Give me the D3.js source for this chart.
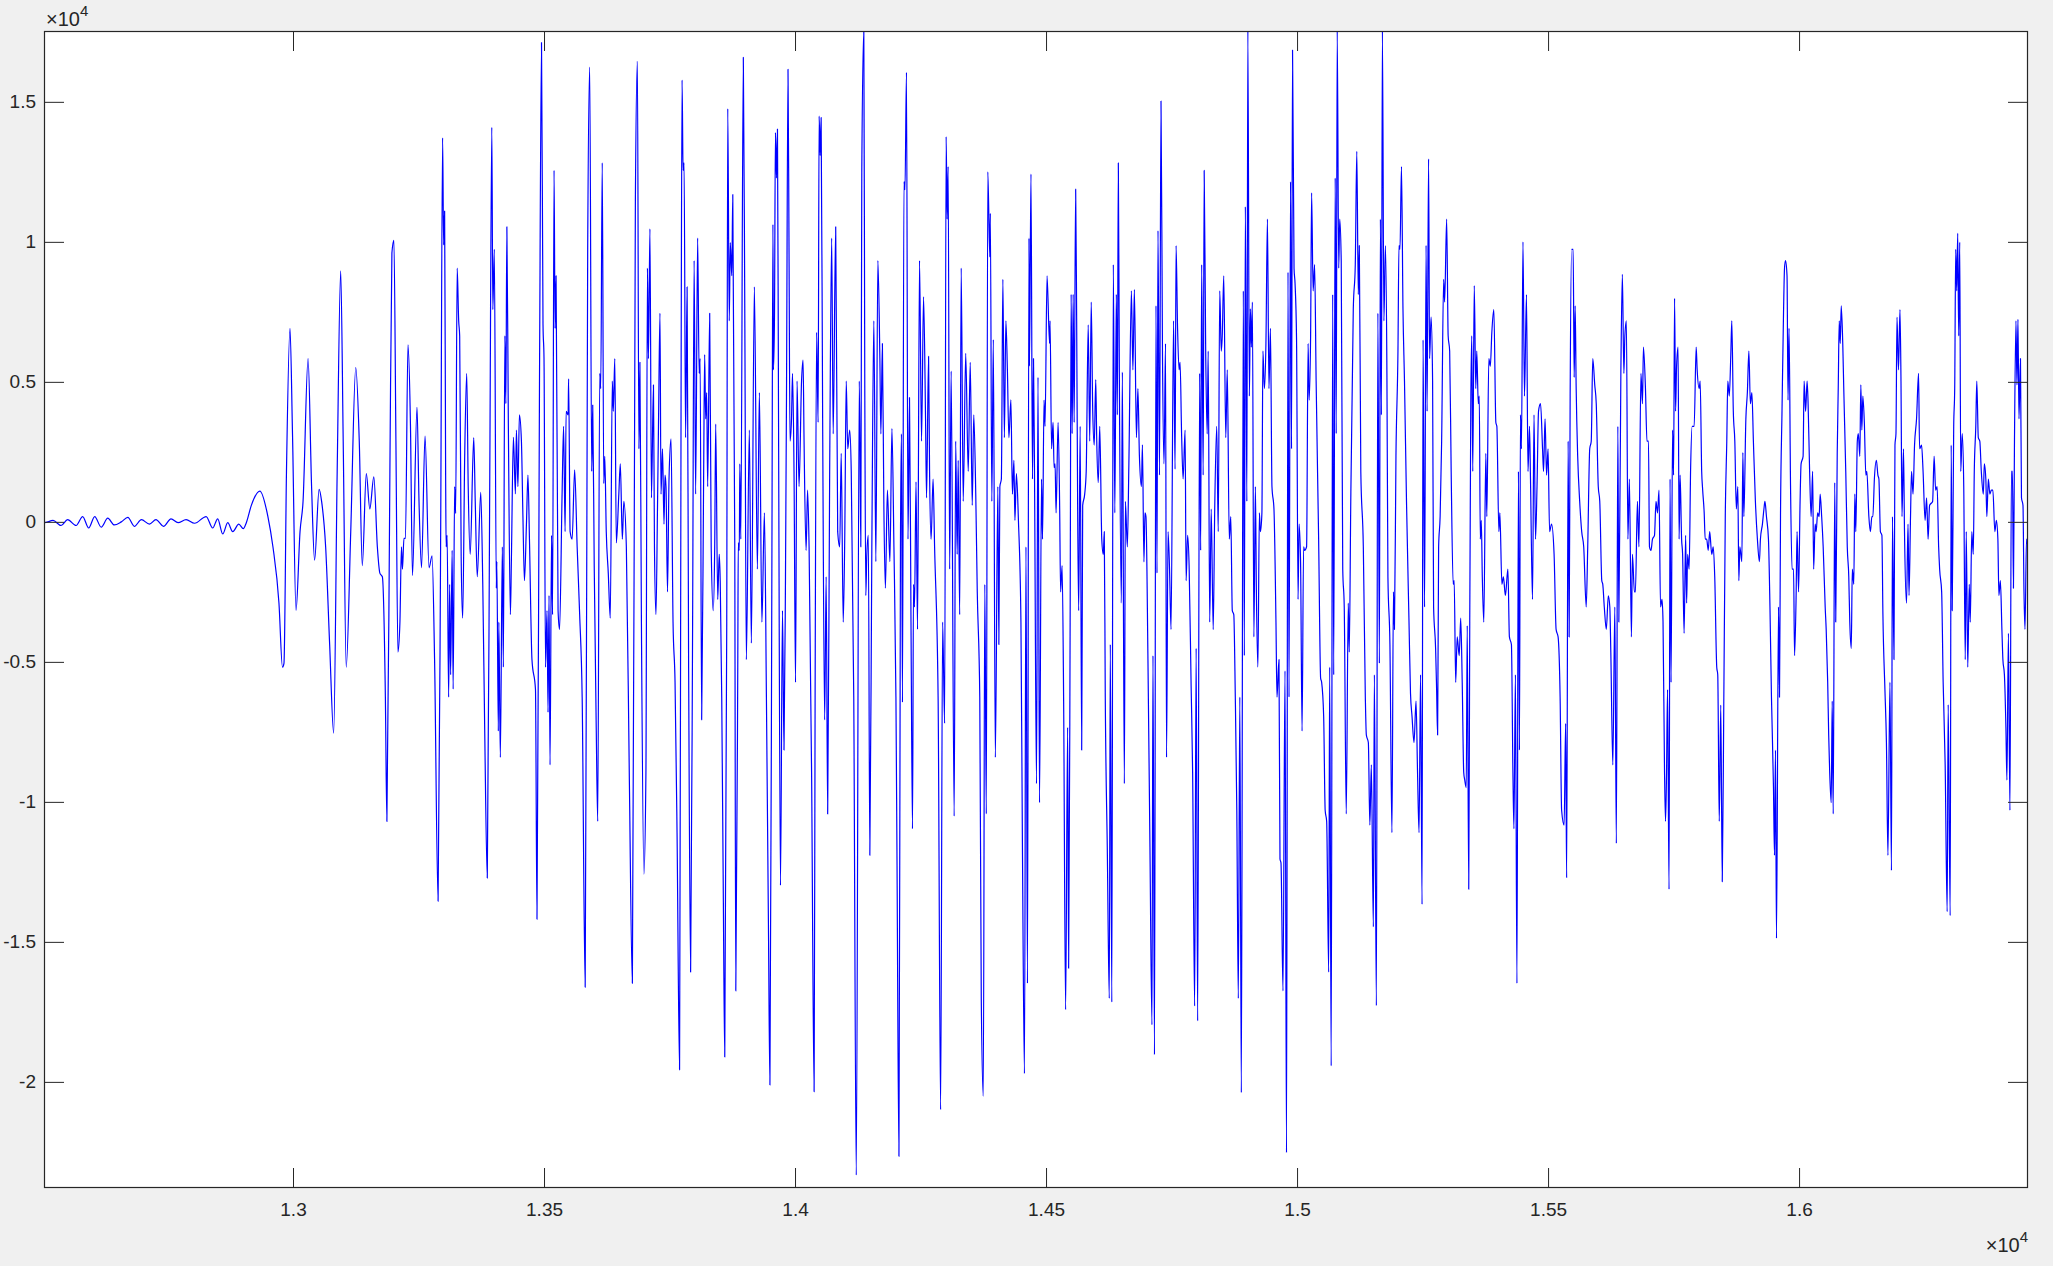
<!DOCTYPE html>
<html><head><meta charset="utf-8">
<script src="https://cdn.jsdelivr.net/npm/d3@7"></script>
<style>html,body{margin:0;padding:0;background:#f0f0f0;overflow:hidden}</style>
</head><body><svg id="chart" width="2053" height="1266"></svg>
<script>
const xTicks = [13000,13500,14000,14500,15000,15500,16000];
const xTickLabels = ["1.3","1.35","1.4","1.45","1.5","1.55","1.6"];
const yTicks = [-2,-1.5,-1,-0.5,0,0.5,1,1.5];
const yTickLabels = ["-2","-1.5","-1","-0.5","0","0.5","1","1.5"];
const xDomain = [12504,16456];
const yDomain = [-2.379,1.753]; // amplitude in units of 10^4

const wave1 = [[12504,-0.003],[12505,-0.003],[12522,0.005],[12538,-0.013],[12551,0.008],[12568,-0.013],[12581,0.019],[12593,-0.022],[12605,0.019],[12618,-0.019],[12631,0.013],[12644,-0.011],[12658,0],[12671,0.016],[12684,-0.016],[12698,0.008],[12714,-0.008],[12727,0.008],[12742,-0.016],[12757,0.011],[12771,-0.003],[12787,0.008],[12804,-0.005],[12827,0.019],[12840,-0.022],[12850,0.011],[12860,-0.043],[12870,-0.003],[12880,-0.035],[12892,-0.008],[12901,-0.024]];
const wave2 = [[12907,-0.003],[12917,0.059],[12934,0.110],[12950,0.019],[12960,-0.089],[12972,-0.290],[12979,-0.519],[12982,-0.505],[12987,0.180],[12994,0.691],[12999,0.315],[13006,-0.316],[13014,-0.035],[13020,0.073],[13030,0.583],[13037,0.126],[13043,-0.137],[13052,0.116],[13057,0.073],[13065,-0.089],[13073,-0.438],[13081,-0.755],[13088,0.180],[13095,0.896],[13100,0.288],[13106,-0.519],[13115,-0.035],[13125,0.551],[13132,0.288],[13138,-0.156],[13146,0.172],[13153,0.046],[13161,0.161],[13168,-0.089],[13173,-0.183],[13178,-0.196],[13184,-0.626],[13187,-1.070],[13193,0.180],[13197,0.960],[13201,1.005],[13205,0.288],[13209,-0.465],[13213,-0.358],[13216,-0.089],[13218,-0.169],[13221,-0.059],[13224,-0.059],[13229,0.632],[13234,0.341],[13238,-0.191],[13247,0.409],[13251,0.073],[13256,-0.164],[13263,0.306],[13271,-0.164],[13277,-0.121],[13282,-0.491],[13289,-1.355],[13294,-0.089],[13298,1.371]];
const wave3 = [[13300,0.989],[13302,1.110],[13304,0.180],[13305,-0.089],[13307,-0.048],[13310,-0.626],[13312,-0.223],[13314,-0.546],[13317,-0.102],[13319,-0.597],[13322,0.126],[13324,0.030],[13327,0.906],[13330,0.718],[13332,0.664],[13335,-0.129],[13338,-0.344],[13342,0.234],[13346,0.530],[13349,0.126],[13353,-0.116],[13360,0.301],[13363,0.073],[13367,-0.196],[13374,0.105],[13378,-0.223],[13382,-0.761],[13387,-1.272],[13392,0.180],[13396,1.409],[13398,0.758],[13401,0.973],[13405,-0.237],[13406,-0.142],[13409,-0.747],[13410,-0.358],[13413,-0.841],[13417,-0.089],[13419,-0.519],[13422,0.664],[13424,0.422],[13426,1.054],[13429,0.341],[13433,-0.331],[13435,-0.137],[13439,0.302],[13443,0.100],[13445,0.328],[13448,0.126],[13451,0.382],[13455,0.288],[13458,0.019],[13461,-0.210],[13465,-0.008],[13468,0.167],[13471,-0.062],[13476,-0.492],[13483,-0.599],[13486,-1.419],[13491,0.503],[13495,1.712],[13498,0.704],[13500,0.583],[13503,-0.519],[13506,-0.317],[13508,-0.680],[13510,-0.263],[13512,-0.868],[13515,-0.048],[13517,-0.331],[13520,1.255],[13522,0.691],[13524,0.879],[13528,-0.317],[13531,-0.384],[13536,0.099],[13539,0.341],[13542,-0.035],[13544,0.395],[13548,0.382],[13549,0.511],[13552,-0.035],[13556,-0.062],[13561,0.186],[13566,-0.089],[13571,-0.331],[13576,-0.626],[13582,-1.662],[13587,0.973],[13591,1.624],[13595,0.180],[13597,0.417],[13600,-0.156],[13604,-0.734],[13607,-1.070],[13611,0.530],[13613,0.476],[13616,1.282],[13619,0.137],[13621,0.234],[13624,-0.035],[13628,-0.183],[13632,-0.344],[13636,0.503],[13638,0.395],[13641,0.583],[13644,-0.075],[13649,0.099],[13652,0.207],[13656,-0.062],[13659,0.073],[13664,-0.089],[13670,-0.922],[13676,-1.648],[13682,1.148],[13686,1.645],[13689,0.261],[13691,0.570],[13694,-0.358],[13699,-1.258]];
const wave4 = [[13703,-0.895],[13706,0.906],[13708,0.583],[13711,1.046],[13714,0.086],[13718,0.489],[13720,-0.089],[13723,-0.331],[13726,0.046],[13728,0.341],[13731,0.745],[13733,0.099],[13736,0.261],[13739,-0.008],[13741,0.167],[13743,0.126],[13746,-0.250],[13749,0.153],[13753,0.296],[13757,-0.358],[13761,-0.573],[13765,-1.110],[13770,-1.957],[13773,0.449],[13775,1.578],[13777,1.255],[13779,1.282],[13782,0.301],[13785,0.839],[13788,-0.492],[13792,-1.608],[13796,-0.358],[13799,0.933],[13802,0.099],[13806,1.013],[13809,0.530],[13811,0.583],[13814,-0.707],[13818,0.180],[13820,0.597],[13822,0.368],[13824,0.462],[13826,0.126],[13830,0.745],[13833,-0.089],[13837,-0.317],[13840,-0.089],[13842,0.349],[13846,-0.277],[13849,-0.116],[13851,-0.210],[13854,-0.626],[13857,-1.298],[13860,-1.911],[13864,-0.358],[13866,1.476],[13869,0.718],[13871,0.997],[13874,0.879],[13876,1.169],[13880,-0.089],[13882,-1.675],[13886,-0.492],[13887,-0.075],[13889,-0.102],[13890,0.207],[13892,-0.062],[13897,1.659],[13900,0.718],[13903,-0.492],[13909,0.328],[13913,-0.433],[13919,0.839],[13925,-0.169],[13929,0.462],[13934,-0.358],[13939,0.032],[13943,-0.626],[13947,-1.433],[13950,-2.011],[13954,-0.089],[13956,1.062],[13957,0.543],[13959,0.718],[13961,1.390],[13963,1.228],[13965,1.403],[13967,0.449],[13971,-1.298],[13975,-0.317],[13978,-0.815],[13981,-0.196],[13983,0.449],[13986,1.616],[13988,0.987],[13990,0.288],[13993,0.368],[13995,0.530],[13998,0.180],[14001,-0.573],[14004,0.503],[14008,0.126],[14013,0.503],[14016,0.578],[14018,0.288],[14022,-0.102],[14025,0.113],[14028,-0.089],[14033,-0.895],[14038,-2.035],[14040,-0.626],[14043,0.677],[14046,0.355],[14048,1.449],[14050,1.309],[14052,1.444],[14055,0.368],[14059,-0.707],[14062,-0.196],[14065,-1.043],[14069,0.180],[14073,1.013],[14076,0.314],[14081,1.054],[14085,-0.035],[14089,-0.089],[14092,0.245],[14096,-0.358],[14099,-0.062],[14102,0.503],[14105,0.261],[14109,0.328]];
const wave5 = [[14112,0.180],[14117,-0.626],[14122,-2.333],[14128,0.503],[14131,-0.089],[14133,1.255],[14137,1.753],[14139,0.449],[14141,-0.263],[14143,-0.116],[14146,-0.048],[14149,-1.191],[14153,-0.089],[14157,0.718],[14161,-0.142],[14165,0.933],[14169,0.583],[14171,0.314],[14174,0.637],[14177,0.046],[14180,-0.237],[14184,0.113],[14189,-0.142],[14193,0.333],[14197,-0.089],[14201,-0.626],[14203,-1.164],[14207,-2.266],[14210,-0.089],[14212,0.314],[14214,-0.645],[14217,1.215],[14219,1.186],[14222,1.605],[14225,-0.062],[14228,0.444],[14231,-0.358],[14234,-1.096],[14236,-0.223],[14238,-0.304],[14241,0.143],[14244,-0.384],[14248,0.933],[14252,0.288],[14256,0.804],[14260,0.368],[14262,0.086],[14266,0.591],[14268,0.180],[14271,-0.062],[14275,0.153],[14278,-0.089],[14285,-0.626],[14290,-2.099],[14294,-0.358],[14298,-0.720],[14301,1.376],[14303,1.081],[14305,1.269],[14308,-0.169],[14311,0.538],[14317,-1.051],[14320,0.288],[14323,-0.116],[14325,0.220],[14328,-0.331],[14331,0.906],[14335,0.073],[14340,0.602],[14345,0.180],[14349,0.570],[14353,0.059],[14356,0.382],[14360,0.099],[14363,-0.250],[14368,-0.626],[14371,-1.702],[14375,-2.051],[14378,-0.223],[14381,-1.043],[14384,1.250],[14388,0.946],[14389,1.102],[14392,0.073],[14395,0.651],[14399,-0.841],[14404,0.126],[14406,-0.438],[14408,0.126],[14411,0.153],[14414,0.866],[14417,0.301],[14420,0.718],[14423,0.543],[14426,0.301],[14430,0.436],[14433,0.099],[14436,0.220],[14438,0.005],[14441,0.172],[14445,0.005],[14450,-0.358],[14453,-1.164],[14457,-1.970],[14460,-0.089],[14463,-1.648],[14466,1.013],[14467,0.556],[14470,1.242],[14473,0.153],[14475,0.583],[14477,0.180],[14481,-0.935],[14484,0.516],[14487,-1.003],[14491,0.153],[14493,-0.062],[14496,0.435],[14498,0.341],[14502,0.879],[14507,0.637]];
const wave6 = [[14508,0.718],[14511,0.261],[14514,0.355],[14516,0.194],[14518,0.207],[14520,0.032],[14524,0.355],[14527,0.073],[14529,-0.250],[14532,-0.156],[14535,-0.626],[14539,-1.742],[14543,-0.734],[14545,-1.594],[14548,-0.358],[14550,0.812],[14552,0.315],[14554,0.812],[14556,0.355],[14559,1.188],[14561,0.718],[14563,0.046],[14565,-0.317],[14568,0.341],[14571,-0.815],[14573,0.059],[14577,0.099],[14580,0.180],[14584,0.704],[14587,0.288],[14590,0.785],[14593,0.395],[14596,0.274],[14599,0.508],[14601,0.288],[14604,0.140],[14607,0.341],[14611,-0.062],[14614,-0.116],[14616,-0.035],[14618,-0.626],[14622,-1.164],[14626,-1.702],[14628,-0.438],[14631,-1.715],[14634,0.919],[14637,0.032],[14640,0.812],[14642,0.382],[14644,1.282],[14646,0.530],[14650,-0.290],[14652,0.535],[14656,-0.935],[14658,0.073],[14662,-0.089],[14665,0.207],[14670,0.825],[14673,0.543],[14676,0.830],[14680,0.301],[14683,0.476],[14686,0.234],[14690,0.126],[14692,0.275],[14695,-0.143],[14697,0.032],[14699,0.019],[14703,-0.492],[14707,-1.164],[14711,-1.796],[14713,-0.478],[14716,-1.903],[14719,0.772],[14721,-0.183],[14723,1.040],[14726,0.167],[14729,1.503],[14732,0.583],[14735,0.207],[14738,0.637],[14740,-0.841],[14743,-0.035],[14746,-0.169],[14749,-0.384],[14754,0.718],[14757,0.188],[14759,0.987],[14762,0.691],[14765,0.543],[14767,0.570],[14770,0.315],[14773,0.153],[14777,0.328],[14779,-0.210],[14782,-0.048],[14785,-0.156],[14789,-0.586],[14792,-0.895],[14796,-1.729],[14799,-0.452],[14802,-1.782],[14806,0.530],[14808,-0.102],[14810,0.919],[14813,0.167],[14815,1.255],[14818,0.610],[14821,0.314],[14823,0.610],[14826,-0.358],[14829,0.046],[14833,-0.385],[14836,0.046],[14840,0.341],[14843,-0.035],[14846,0.825],[14849,0.610],[14851,0.664],[14854,0.879],[14858,0.301],[14861,0.543],[14865,-0.062],[14868,0.019],[14871,-0.317],[14874,-0.331],[14877,-0.626],[14880,-1.030],[14883,-1.702],[14886,-0.626],[14889,-2.038],[14893,0.825],[14895,-0.478],[14897,1.126],[14900,0.073],[14902,1.753],[14905,0.449]];
const wave7 = [[14907,0.761],[14909,0.624],[14911,0.785],[14914,-0.411],[14917,0.126],[14919,-0.250],[14922,-0.519],[14925,0.032],[14927,-0.035],[14930,0.032],[14932,0.610],[14935,0.476],[14938,0.637],[14941,1.081],[14944,0.476],[14947,0.691],[14950,0.126],[14954,0.046],[14958,-0.358],[14960,-0.626],[14964,-0.492],[14966,-1.204],[14968,-1.218],[14972,-1.675],[14976,-0.532],[14979,-2.253],[14982,0.892],[14984,-0.626],[14987,1.215],[14989,0.261],[14991,1.685],[14994,0.906],[14996,0.852],[14999,0.651],[15002,-0.277],[15004,-0.008],[15007,-0.142],[15010,-0.747],[15013,-0.089],[15015,-0.102],[15019,-0.089],[15022,0.637],[15024,0.435],[15027,0.664],[15029,1.175],[15032,0.825],[15035,0.919],[15038,0.503],[15043,-0.062],[15047,-0.559],[15049,-0.573],[15053,-0.694],[15056,-1.030],[15059,-1.070],[15063,-1.608],[15065,-0.519],[15068,-1.943],[15071,0.812],[15073,-0.546],[15076,1.228],[15078,0.315],[15080,1.753],[15083,0.906],[15085,1.081],[15088,0.933],[15091,-0.169],[15094,-0.304],[15098,-1.043],[15102,-0.290],[15104,-0.465],[15107,0.073],[15112,0.758],[15116,0.919],[15119,1.323],[15122,0.812],[15124,0.987],[15127,0.180],[15132,-0.089],[15136,-0.626],[15138,-0.761],[15142,-0.788],[15145,-1.083],[15148,-0.868],[15152,-1.446],[15154,-0.546],[15158,-1.728],[15161,0.745],[15164,-0.505],[15166,1.081],[15168,0.382],[15170,1.753],[15173,0.718],[15176,0.987],[15179,0.530],[15181,-0.196],[15185,-0.438],[15189,-1.110],[15192,-0.250],[15194,-0.384],[15197,0.234],[15201,0.610],[15203,0.987],[15205,0.973],[15208,1.269],[15211,0.758],[15214,0.503],[15218,0.073],[15223,-0.358],[15226,-0.613],[15229,-0.694],[15233,-0.788],[15237,-0.640],[15240,-0.895],[15243,-1.110],[15246,-0.546],[15249,-1.366],[15251,0.650],[15254,-0.304],[15257,0.987],[15259,0.395],[15262,1.296],[15264,0.583],[15267,0.731],[15270,0.503],[15272,-0.304],[15276,-0.452],[15278,-0.599],[15280,-0.761],[15282,-0.089],[15285,0.019],[15288,0.288],[15292,0.866],[15294,0.785],[15298,1.081],[15301,0.664],[15304,0.610]];
const wave8 = [[15307,0.180],[15311,-0.223],[15313,-0.210],[15316,-0.573],[15319,-0.411],[15323,-0.478],[15326,-0.344],[15329,-0.573],[15332,-0.895],[15334,-0.922],[15337,-0.949],[15339,-0.371],[15342,-1.312],[15344,-0.358],[15346,0.395],[15348,0.664],[15350,0.180],[15353,0.844],[15356,0.476],[15358,0.610],[15361,0.422],[15363,0.449],[15365,-0.062],[15367,0.005],[15369,-0.196],[15372,-0.358],[15376,0.245],[15378,0.019],[15382,0.583],[15385,0.556],[15388,0.677],[15392,0.758],[15396,0.355],[15398,0.341],[15402,-0.035],[15404,0.032],[15408,-0.223],[15411,-0.196],[15415,-0.263],[15420,-0.169],[15423,-0.411],[15427,-0.438],[15430,-0.895],[15432,-1.096],[15435,-0.546],[15438,-1.648],[15441,0.180],[15443,-0.815],[15445,0.382],[15447,0.261],[15450,1.000],[15453,0.449],[15457,0.812],[15460,0.180],[15463,0.341],[15465,0.153],[15469,-0.277],[15472,0.382],[15475,-0.062],[15478,0.126],[15481,0.395],[15485,0.422],[15489,0.261],[15491,0.180],[15494,0.368],[15497,0.167],[15500,0.261],[15503,-0.035],[15507,-0.008],[15512,-0.116],[15516,-0.384],[15520,-0.411],[15524,-0.626],[15527,-1.030],[15532,-1.083],[15535,-0.720],[15537,-1.271],[15540,0.288],[15542,-0.411],[15544,0.449],[15547,0.973],[15550,0.973],[15552,0.516],[15554,0.771],[15556,0.476],[15559,0.234],[15563,0.073],[15567,-0.035],[15571,-0.089],[15576,-0.304],[15579,-0.089],[15583,0.261],[15586,0.288],[15589,0.583],[15593,0.489],[15596,0.422],[15600,0.126],[15603,0.073],[15607,-0.210],[15609,-0.223],[15612,-0.304],[15616,-0.384],[15620,-0.264],[15623,-0.304],[15625,-0.465],[15629,-0.868],[15633,-0.304],[15636,-1.148],[15639,0.341],[15641,-0.358],[15645,0.530],[15648,0.884],[15651,0.530],[15653,0.664],[15656,0.718],[15659,-0.062],[15662,0.153],[15666,-0.411],[15668,-0.116],[15672,-0.250],[15674,-0.250],[15678,0.073],[15681,-0.089],[15685,0.530],[15688,0.422],[15690,0.624],[15694,0.476],[15697,0.288],[15700,0.288],[15702,-0.089]];
const wave9 = [[15705,-0.102],[15708,-0.062],[15712,-0.048],[15715,0.073],[15718,0.032],[15721,0.113],[15724,-0.304],[15727,-0.277],[15729,-0.358],[15732,-0.895],[15734,-1.070],[15736,-0.895],[15738,-0.599],[15741,-1.312],[15743,0.153],[15745,-0.573],[15748,0.328],[15750,0.167],[15752,0.798],[15754,0.395],[15756,0.556],[15759,0.624],[15761,-0.062],[15763,0.167],[15766,-0.062],[15768,-0.116],[15771,-0.398],[15774,-0.048],[15776,-0.290],[15778,-0.116],[15781,-0.169],[15784,0.194],[15787,0.341],[15791,0.341],[15795,0.624],[15797,0.543],[15801,0.476],[15803,0.503],[15806,0.180],[15808,0.113],[15811,0.032],[15813,-0.062],[15816,-0.062],[15819,-0.102],[15822,-0.035],[15826,-0.116],[15829,-0.089],[15832,-0.196],[15836,-0.519],[15838,-0.546],[15841,-1.070],[15844,-0.654],[15847,-1.285],[15850,-0.654],[15853,0.019],[15856,0.288],[15858,0.503],[15861,0.449],[15864,0.597],[15866,0.718],[15869,0.395],[15872,0.288],[15875,0.046],[15878,0.126],[15880,-0.210],[15882,-0.089],[15886,-0.142],[15888,0.247],[15890,0.019],[15894,0.368],[15897,0.462],[15900,0.610],[15903,0.422],[15906,0.462],[15909,0.288],[15913,0.073],[15917,-0.062],[15921,-0.142],[15923,-0.062],[15927,-0.008],[15930,0.046],[15932,0.073],[15935,0.019],[15939,-0.062],[15942,-0.304],[15945,-0.626],[15949,-0.949],[15951,-1.191],[15953,-0.815],[15955,-1.487],[15959,-0.304],[15961,-0.626],[15963,0.019],[15966,0.395],[15969,0.745],[15971,0.906],[15973,0.933],[15976,0.879],[15978,0.435],[15980,0.691],[15983,0.126],[15986,-0.169],[15989,-0.169],[15991,-0.478],[15994,-0.277],[15996,-0.035],[15999,-0.250],[16002,0.073],[16004,0.207],[16008,0.234],[16010,0.503],[16013,0.395],[16016,0.503],[16018,0.422],[16021,0.180],[16024,0.019],[16027,0.180],[16029,-0.169],[16032,-0.008],[16034,-0.035],[16037,0.032],[16040,0.019],[16042,0.099],[16045,0.019],[16048,-0.089],[16052,-0.304],[16054,-0.384],[16057,-0.573],[16059,-0.761],[16061,-0.895],[16064,-1.003],[16066,-0.640],[16068,-1.043],[16071,0.140],[16073,-0.358],[16076,0.247],[16078,0.476],[16080,0.718],[16082,0.637],[16084,0.771],[16087,0.637],[16089,0.476],[16093,0.180],[16096,-0.089],[16099,-0.196],[16101,-0.358]];
const wave10 = [[16104,-0.452],[16106,-0.169],[16109,-0.223],[16111,0.099],[16113,-0.035],[16116,0.288],[16118,0.315],[16121,0.234],[16123,0.489],[16125,0.328],[16127,0.449],[16130,0.355],[16133,0.167],[16135,0.180],[16139,0.019],[16142,-0.035],[16145,0.019],[16147,0.019],[16150,0.153],[16154,0.220],[16157,0.167],[16159,0.153],[16162,-0.035],[16165,-0.048],[16167,-0.331],[16171,-0.599],[16174,-0.788],[16177,-1.191],[16181,-0.573],[16184,-1.245],[16186,0.019],[16189,-0.492],[16191,0.274],[16193,0.315],[16195,0.731],[16198,0.543],[16201,0.758],[16203,0.503],[16205,0.019],[16208,0.261],[16210,-0.035],[16214,-0.290],[16217,-0.008],[16219,-0.263],[16222,0.019],[16224,0.180],[16227,0.099],[16230,0.274],[16234,0.368],[16238,0.530],[16240,0.261],[16244,0.274],[16247,0.180],[16251,0.005],[16254,0.086],[16257,-0.062],[16260,0.059],[16266,0.073],[16269,0.234],[16272,0.113],[16275,0.126],[16278,-0.089],[16280,-0.169],[16284,-0.250],[16287,-0.573],[16291,-0.868],[16295,-1.392],[16297,-0.653],[16301,-1.406],[16303,0.274],[16305,-0.317],[16308,0.341],[16310,0.476],[16312,0.973],[16314,0.825],[16316,1.030],[16318,0.664],[16320,0.999],[16322,0.180],[16325,0.315],[16328,0.126],[16331,-0.492],[16333,-0.035],[16336,-0.519],[16339,-0.223],[16341,-0.358],[16344,-0.035],[16347,-0.116],[16349,0.180],[16352,0.341],[16354,0.503],[16357,0.301],[16360,0.288],[16363,0.180],[16367,0.099],[16369,0.207],[16372,0.153],[16374,0.019],[16377,0.153],[16380,0.099],[16383,0.113],[16386,0.113],[16390,-0.035],[16393,0.005],[16396,-0.062],[16398,-0.263],[16401,-0.210],[16404,-0.384],[16406,-0.492],[16409,-0.546],[16412,-0.734],[16414,-0.922],[16417,-0.398],[16420,-1.030],[16423,0.180],[16425,0.180],[16427,-0.237],[16429,0.274],[16432,0.718],[16434,0.489],[16436,0.723],[16438,0.368],[16441,0.583],[16443,0.086],[16446,0.059],[16448,-0.250],[16450,-0.384],[16453,-0.062],[16456,-0.089]];

const signal = [].concat(wave1, wave2, wave3, wave4, wave5, wave6, wave7, wave8, wave9, wave10);

const L = 44, R = 2028, T = 31, B = 1188;
const svg = d3.select("#chart");
svg.append("rect").attr("width", 2053).attr("height", 1266).attr("fill", "#f0f0f0");
svg.append("rect").attr("x", L).attr("y", T).attr("width", R - L).attr("height", B - T).attr("fill", "#ffffff");

const x = d3.scaleLinear().domain(xDomain).range([L, R]);
const y = d3.scaleLinear().domain(yDomain).range([B, T]);

svg.append("clipPath").attr("id", "clip").append("rect")
  .attr("x", L).attr("y", T).attr("width", R - L).attr("height", B - T);

const line = d3.line().x(d => x(d[0])).y(d => y(d[1])).curve(d3.curveMonotoneX);
svg.append("path").datum(signal)
  .attr("clip-path", "url(#clip)")
  .attr("d", line)
  .attr("fill", "none")
  .attr("stroke", "#0000ff")
  .attr("stroke-width", 1.2)
  .attr("stroke-linejoin", "round");

const font = "'Liberation Sans', Arial, Helvetica, sans-serif";
const axCol = "#262626";
const fs = 19;

function styleAxis(g) {
  g.select(".domain").remove();
  g.selectAll(".tick line").attr("stroke", axCol).attr("stroke-width", 1);
  g.selectAll(".tick text").attr("fill", axCol).style("font-family", font).style("font-size", fs + "px");
}

const xFmt = (d, i) => xTickLabels[i];
const yFmt = (d, i) => yTickLabels[i];

svg.append("g").attr("transform", `translate(0,${B})`)
  .call(d3.axisBottom(x).tickValues(xTicks).tickFormat(xFmt).tickSizeInner(-20).tickSizeOuter(0).tickPadding(15))
  .call(styleAxis);
svg.append("g").attr("transform", `translate(0,${T})`)
  .call(d3.axisTop(x).tickValues(xTicks).tickFormat("").tickSizeInner(-20).tickSizeOuter(0))
  .call(styleAxis);
svg.append("g").attr("transform", `translate(${L},0)`)
  .call(d3.axisLeft(y).tickValues(yTicks).tickFormat(yFmt).tickSizeInner(-20).tickSizeOuter(0).tickPadding(8))
  .call(styleAxis);
svg.append("g").attr("transform", `translate(${R},0)`)
  .call(d3.axisRight(y).tickValues(yTicks).tickFormat("").tickSizeInner(-20).tickSizeOuter(0))
  .call(styleAxis);

svg.append("rect").attr("x", L + 0.5).attr("y", T + 0.5).attr("width", R - L - 1).attr("height", B - T - 1)
  .attr("fill", "none").attr("stroke", axCol).attr("stroke-width", 1.2);

function exponentLabel(xp, yp, anchor) {
  const t = svg.append("text").attr("x", xp).attr("y", yp).attr("text-anchor", anchor)
    .attr("fill", axCol).style("font-family", font).style("font-size", "20px");
  t.append("tspan").text("\u00d710");
  t.append("tspan").attr("dy", -10).style("font-size", "15px").text("4");
}
exponentLabel(46, 26, "start");
exponentLabel(2028, 1252, "end");
</script></body></html>
